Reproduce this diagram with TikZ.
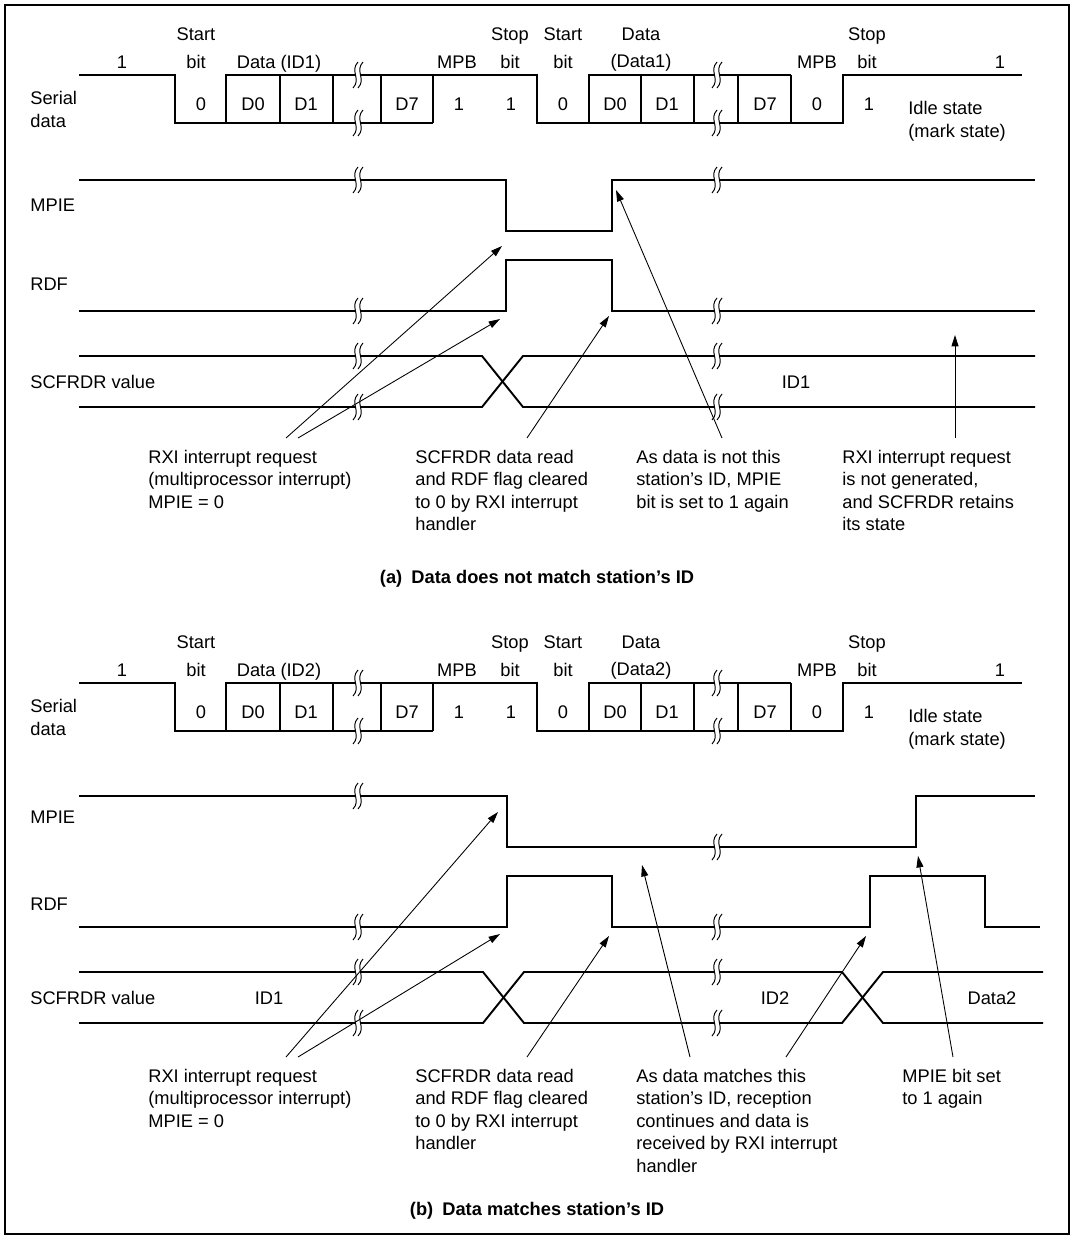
\documentclass[tikz,border=0pt]{standalone}
\usepackage{fontspec}
\setmainfont{Liberation Sans}
\usetikzlibrary{arrows.meta, positioning, calc}

\begin{document}
\begin{tikzpicture}[
    x=0.02cm, y=-0.02cm,
    every node/.style={inner sep=0pt, font=\fontsize{10.4}{12.8}\selectfont},
    sig/.style={line width=1.1pt, line join=miter},
    callout/.style={line width=0.5pt, -{Triangle[length=6.5pt, width=4pt]}},
    hdr/.style={anchor=north, align=center, font=\fontsize{10.4}{15.6}\selectfont},
    note/.style={anchor=north west, align=left},
    lbl/.style={anchor=base west},
    val/.style={anchor=base},
    caption/.style={anchor=base, font=\fontsize{10.4}{12.8}\selectfont\bfseries},
    brk/.pic={
        \fill[white] (-2.5,-3) rectangle (2.5,3);
        \foreach \s in {-2.5,2.5}
            \draw[line width=0.55pt] (\s+2.5,-13) .. controls (\s-6,-4) and (\s+6,4) .. (\s-2.5,13);
    }
]
\useasboundingbox (0,0) rectangle (1075,1237);
\draw[line width=1.1pt] (5,5) rectangle (1069,1234);

% serial data rows of (a) and (b)
\foreach \dy/\idn/\datn in {0/ID1/Data1, 608/ID2/Data2}{
\begin{scope}[shift={(0,\dy)}]
    \draw[sig] (79,75) -- (175,75) -- (175,123) -- (433,123);
    \draw[sig] (226,123) -- (226,75) -- (537,75) -- (537,123) -- (843,123) -- (843,75) -- (1022,75);
    \draw[sig] (589,123) -- (589,75) -- (791,75);
    \foreach \x in {280,333,381,433,641,694,738,791}
        \draw[sig] (\x,75) -- (\x,123);
    \foreach \x in {358,717} {
        \pic at (\x,75) {brk};
        \pic at (\x,123) {brk};
    }
    \node[note] (serlbl\idn) at (30,91) {Serial\\data};
    \node[val] (one\idn) at (122,68.5) {1};
    \node[hdr] (start\idn) at (196,27.5) {Start\\bit};
    \node[val] (dat\idn) at (279,68.5) {Data (\idn)};
    \node[val] (mpb\idn) at (457,68.5) {MPB};
    \node[hdr] (stop\idn) at (510,27.5) {Stop\\bit};
    \node[hdr] (startb\idn) at (563,27.5) {Start\\bit};
    \node[hdr] (datb\idn) at (641,27.5) {Data\\(\datn)};
    \node[val] (mpbb\idn) at (817,68.5) {MPB};
    \node[hdr] (stopb\idn) at (867,27.5) {Stop\\bit};
    \node[val] (oneb\idn) at (1000,68.5) {1};
    \node[note] (idle\idn) at (908,101) {Idle state\\(mark state)};
    \foreach \x/\b [count=\i] in {201/0, 253/D0, 306/D1, 407/D7, 459/1, 511/1,
                                  563/0, 615/D0, 667/D1, 765/D7, 817/0, 869/1}
        \node[val] (bit\idn-\i) at (\x,110.5) {\b};
\end{scope}
}

% (a) data does not match
\draw[sig] (79,180) -- (506,180) -- (506,231) -- (612,231) -- (612,180) -- (1035,180);
\draw[sig] (79,311) -- (506,311) -- (506,260) -- (612,260) -- (612,311) -- (1035,311);
\draw[sig] (79,356) -- (482,356) -- (523,407) -- (1035,407);
\draw[sig] (79,407) -- (482,407) -- (523,356) -- (1035,356);
\foreach \x in {358,717}
    \foreach \y in {180,311,356,407}
        \pic at (\x,\y) {brk};
\node[lbl] (mpieA) at (30,211.6) {MPIE};
\node[lbl] (rdfA) at (30,290.6) {RDF};
\node[lbl] (scfA) at (30,388.6) {SCFRDR value};
\node[val] (valA) at (796,388.6) {ID1};

\node[note] (noteA1) at (148,449.5) {RXI interrupt request\\(multiprocessor interrupt)\\MPIE = 0};
\node[note] (noteA2) at (415,449.5) {SCFRDR data read\\and RDF flag cleared\\to 0 by RXI interrupt\\handler};
\node[note] (noteA3) at (636,449.5) {As data is not this\\station’s ID, MPIE\\bit is set to 1 again};
\node[note] (noteA4) at (842,449.5) {RXI interrupt request\\is not generated,\\and SCFRDR retains\\its state};
\node[caption] (capA) at (537,583.6) {(a)\enspace Data does not match station’s ID};

\path (286,438) coordinate (sA1) (298,438) coordinate (sA2) (527,438) coordinate (sA3)
      (722,438) coordinate (sA4) (955,438) coordinate (sA5);
\path (502,246) coordinate (tA1) (500,319) coordinate (tA2) (609,316) coordinate (tA3)
      (616,190) coordinate (tA4) (955,335) coordinate (tA5);
\foreach \i in {1,...,5}
    \draw[callout] (sA\i) -- (tA\i);

% (b) data matches
\draw[sig] (79,796) -- (507,796) -- (507,847) -- (916,847) -- (916,796) -- (1035,796);
\draw[sig] (79,927) -- (507,927) -- (507,876) -- (612,876) -- (612,927) -- (870,927)
           -- (870,876) -- (985,876) -- (985,927) -- (1040,927);
\draw[sig] (79,972) -- (483,972) -- (524,1023) -- (842,1023) -- (883,972) -- (1043,972);
\draw[sig] (79,1023) -- (483,1023) -- (524,972) -- (842,972) -- (883,1023) -- (1043,1023);
\foreach \x/\y in {358/796, 717/847, 358/927, 717/927, 358/972, 358/1023, 717/972, 717/1023}
    \pic at (\x,\y) {brk};
\node[lbl] (mpieB) at (30,823.6) {MPIE};
\node[lbl] (rdfB) at (30,910) {RDF};
\node[lbl] (scfB) at (30,1004.6) {SCFRDR value};
\node[val] (valB1) at (269,1004.6) {ID1};
\node[val] (valB2) at (775,1004.6) {ID2};
\node[val] (valB3) at (992,1004.6) {Data2};

\node[note] (noteB1) at (148,1068.5) {RXI interrupt request\\(multiprocessor interrupt)\\MPIE = 0};
\node[note] (noteB2) at (415,1068.5) {SCFRDR data read\\and RDF flag cleared\\to 0 by RXI interrupt\\handler};
\node[note] (noteB3) at (636,1068.5) {As data matches this\\station’s ID, reception\\continues and data is\\received by RXI interrupt\\handler};
\node[note] (noteB4) at (902,1068.5) {MPIE bit set\\to 1 again};
\node[caption] (capB) at (537,1215.6) {(b)\enspace Data matches station’s ID};

\path (286,1057) coordinate (sB1) (298,1057) coordinate (sB2) (527,1057) coordinate (sB3)
      (690,1057) coordinate (sB4) (786,1057) coordinate (sB5) (953,1057) coordinate (sB6);
\path (498,812) coordinate (tB1) (500,934) coordinate (tB2) (609,936) coordinate (tB3)
      (642,865) coordinate (tB4) (866,936) coordinate (tB5) (918,856) coordinate (tB6);
\foreach \i in {1,...,6}
    \draw[callout] (sB\i) -- (tB\i);
\end{tikzpicture}
\end{document}
